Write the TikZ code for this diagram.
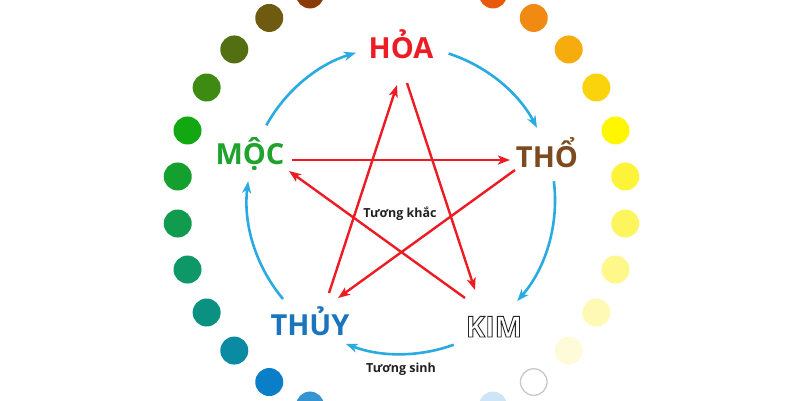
\documentclass[tikz,border=0pt]{standalone}
\usepackage{fontspec}
\setmainfont{Open Sans}
\usetikzlibrary{arrows.meta}
\definecolor{khacred}{RGB}{237,28,36}
\definecolor{sinhblue}{RGB}{41,171,226}
\definecolor{hoacol}{RGB}{237,28,36}
\definecolor{thocol}{RGB}{125,74,32}
\definecolor{thuycol}{RGB}{27,117,188}
\definecolor{moccol}{RGB}{31,162,46}
\definecolor{txtcol}{RGB}{35,31,32}
\newcommand{\outlinetext}[1]{\special{pdf:literal direct 2 Tr 0.9 w 0.15 0.15 0.15 RG 1 1 1 rg}#1\special{pdf:literal direct 0 Tr}}
\tikzset{
  label/.style={inner sep=0pt, anchor=base, font=\bfseries\fontsize{29}{31}\selectfont},
  small/.style={inner sep=0pt, anchor=base, text=txtcol, font=\bfseries\fontsize{12.5}{14}\selectfont},
  khac/.style={draw=khacred, line width=2.4pt, -{Stealth[length=12pt,width=9pt,inset=3pt]}},
  sinh/.style={draw=sinhblue, line width=2.6pt, -{Stealth[length=12pt,width=9pt,inset=3.5pt]}}
}
\begin{document}
\begin{tikzpicture}[x=1pt,y=-1pt]
\useasboundingbox (0,0) rectangle (800,400);
\fill[white] (0,0) rectangle (800,400);
\clip (0,0) rectangle (800,400);
% ring of dots
\foreach \a/\c in {
  66/E85A0A, 54/F08A12, 42/F6AC0C, 30/FBD30C, 18/FFF700, 6/FDF43A,
  -6/FDF55E, -18/FEF78A, -30/FEF9B4, -42/FEFBD8, -66/CFE4F4,
  114/8A3C08, 126/6F5A12, 138/527012, 150/3D8B12, 162/12A812, 174/13A02E,
  186/119B4E, 198/0E9868, 210/0B9182, 222/0A8BA2, 234/0A7FC8, 246/3794D2}{
  \definecolor{dc}{HTML}{\c}
  \fill[dc] ({401.5+225*cos(\a)},{200-225*sin(\a)}) circle (14);
}
\draw[line width=1.3pt, draw={rgb,255:red,200;green,200;blue,200}, fill=white]
  ({401.5+225*cos(-54)},{200-225*sin(-54)}) circle (13.3);
% labels
\node[label, text=hoacol] (hoa) at (401,58) {HỎA};
\node[label, text=thocol] (tho) at (547,167) {THỔ};
\node[label] (kim) at (494,337) {\outlinetext{KIM}};
\node[label, text=thuycol] (thuy) at (310,335) {THỦY};
\node[label, text=moccol] (moc) at (250,164) {MỘC};
\node[small] (khaclbl) at (400,217) {Tương khắc};
\node[small] (sinhlbl) at (401,372) {Tương sinh};
% star end points
\coordinate (hoaA) at (407,83);  \coordinate (kimB) at (475,290);
\coordinate (kimA) at (465,298); \coordinate (mocB) at (289,171);
\coordinate (mocA) at (292,160); \coordinate (thoB) at (510,160);
\coordinate (thoA) at (515,170); \coordinate (thuyB) at (338,298);
\coordinate (thuyA) at (329,293); \coordinate (hoaB) at (397,85);
\draw[khac] (hoaA) -- (kimB);
\draw[khac] (kimA) -- (mocB);
\draw[khac] (mocA) -- (thoB);
\draw[khac] (thoA) -- (thuyB);
\draw[khac] (thuyA) -- (hoaB);
% generating cycle arcs
\coordinate (s1) at ({401+154*cos(-72)},{200+154*sin(-72)});
\coordinate (s2) at ({401+154*cos(-7)},{200+154*sin(-7)});
\coordinate (s3) at ({401+154*cos(70)},{200+154*sin(70)});
\coordinate (s4) at ({401+154*cos(140)},{200+154*sin(140)});
\coordinate (s5) at ({401+154*cos(-151)},{200+154*sin(-151)});
\draw[sinh] (s1) arc[start angle=-72, end angle=-28, radius=154];
\draw[sinh] (s2) arc[start angle=-7, end angle=41, radius=154];
\draw[sinh] (s3) arc[start angle=70, end angle=111, radius=154];
\draw[sinh] (s4) arc[start angle=140, end angle=187, radius=154];
\draw[sinh] (s5) arc[start angle=-151, end angle=-107, radius=154];
\end{tikzpicture}
\end{document}
